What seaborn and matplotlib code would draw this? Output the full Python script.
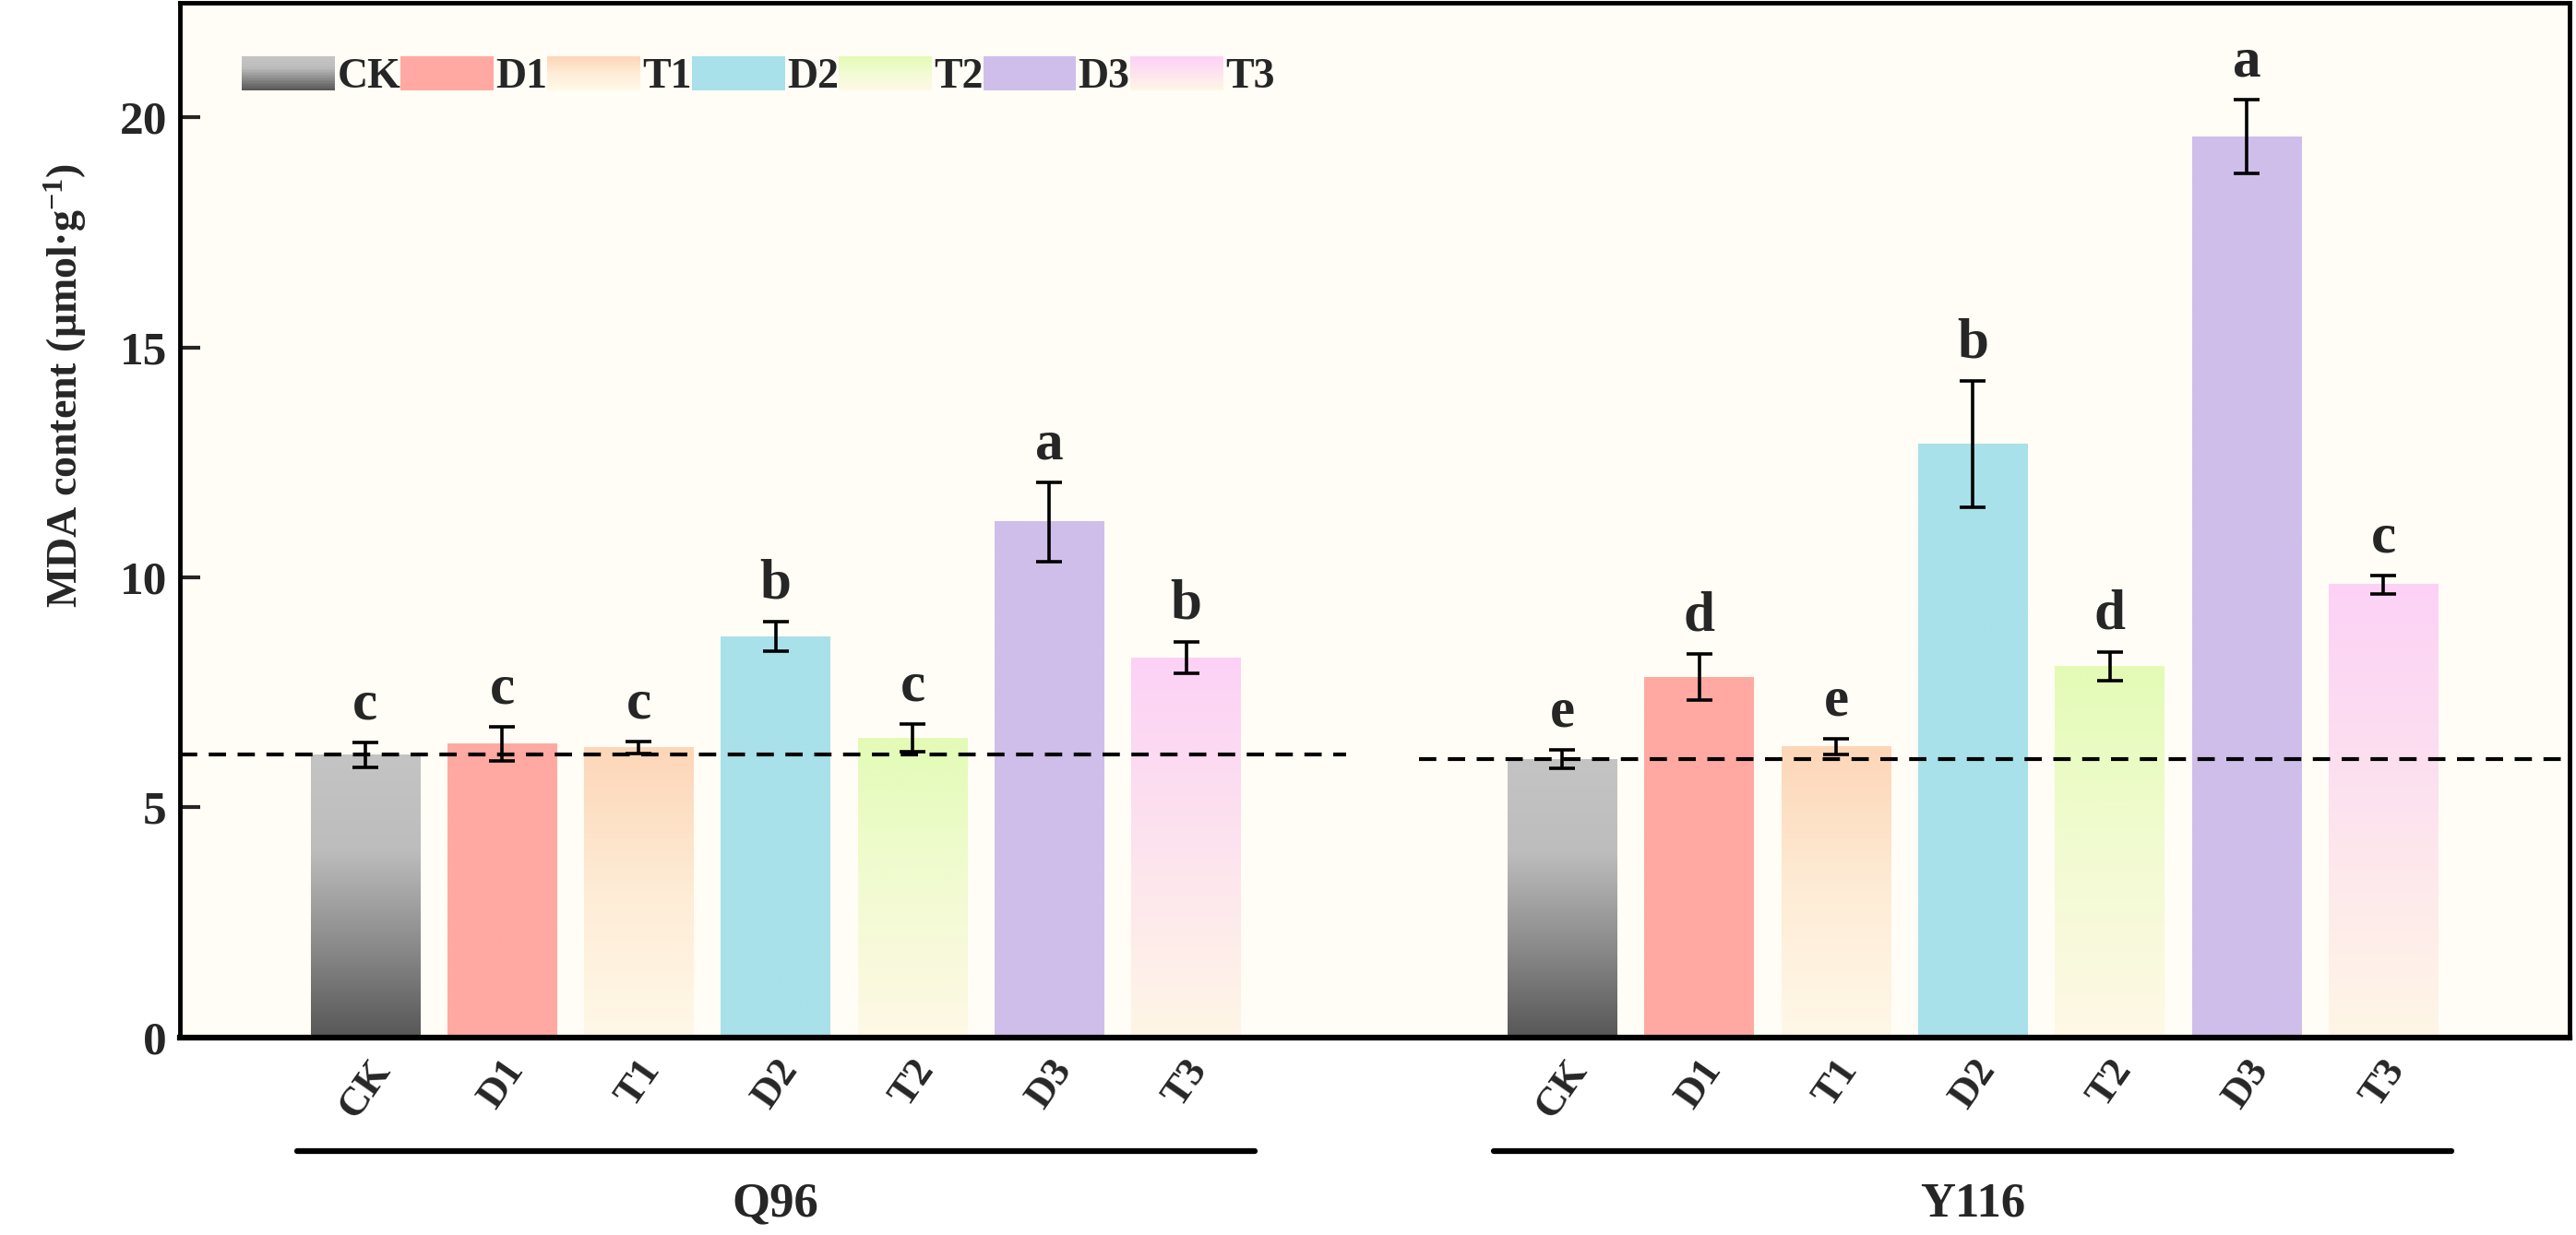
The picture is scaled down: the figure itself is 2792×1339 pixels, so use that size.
import numpy as np
import pandas as pd
import seaborn as sns
import matplotlib.pyplot as plt
import matplotlib.transforms as mtransforms
from matplotlib.colors import LinearSegmentedColormap
from matplotlib.patches import Patch, Rectangle
from matplotlib.legend_handler import HandlerBase

sns.set_theme(style='ticks')
plt.rcParams['font.family'] = ['Liberation Serif', 'DejaVu Serif']
plt.rcParams['font.weight'] = 'bold'
plt.rcParams['mathtext.fontset'] = 'custom'
plt.rcParams['mathtext.rm'] = 'Liberation Serif:bold'
plt.rcParams['mathtext.default'] = 'rm'

# data
treatments = ['CK', 'D1', 'T1', 'D2', 'T2', 'D3', 'T3']
cultivars = ['Q96', 'Y116']
q96_mean = [6.15, 6.39, 6.30, 8.72, 6.51, 11.21, 8.25]
q96_sd = [0.27, 0.37, 0.13, 0.32, 0.30, 0.86, 0.34]
q96_letters = ['c', 'c', 'c', 'b', 'c', 'a', 'b']
y116_mean = [6.05, 7.83, 6.32, 12.90, 8.07, 19.58, 9.85]
y116_sd = [0.20, 0.50, 0.17, 1.38, 0.31, 0.80, 0.20]
y116_letters = ['e', 'd', 'e', 'b', 'd', 'a', 'c']

# colour stops, bottom -> top
stops = {
    'CK': ['#575757', '#8c8c8c', '#bdbdbd', '#c4c4c4'],
    'D1': ['#ffa9a2', '#ffa9a2'],
    'T1': ['#fff8e8', '#feecd6', '#fdd6b8'],
    'D2': ['#a8e1e9', '#a8e1e9'],
    'T2': ['#fff8e6', '#f2fbd2', '#e3fbb6'],
    'D3': ['#cfbeea', '#cfbeea'],
    'T3': ['#fff6e6', '#fde3ee', '#fcd1f6'],
}
group_gap = 8.75

rows = []
for g, (m, s, l) in enumerate([(q96_mean, q96_sd, q96_letters), (y116_mean, y116_sd, y116_letters)]):
    for i, t in enumerate(treatments):
        rows.append(dict(cultivar=cultivars[g], treatment=t, pos=g * group_gap + i,
                         mda=m[i], sd=s[i], letter=l[i]))
df = pd.DataFrame(rows)

fig = plt.figure(figsize=(27.92, 13.39), dpi=100)
ax = fig.add_axes([0.0698, 0.160, 0.9277, 0.838])
ax.set_facecolor('#fffdf5')

pal = {t: stops[t][-1] for t in treatments}
sns.barplot(data=df, x='pos', y='mda', hue='treatment', palette=pal, native_scale=True,
            dodge=False, width=0.8, errorbar=None, legend=False, ax=ax, linewidth=0)

xlim = (-1.355, 16.11)
ylim = (0, 22.5)

# gradient fills
pos2t = dict(zip(df['pos'], df['treatment']))
for p in list(ax.patches):
    cx = p.get_x() + p.get_width() / 2
    t = pos2t[min(pos2t, key=lambda k: abs(k - cx))]
    cm = LinearSegmentedColormap.from_list(t, stops[t])
    grad = cm(np.linspace(0, 1, 256)).reshape(256, 1, 4)
    ax.imshow(grad, extent=[p.get_x(), p.get_x() + p.get_width(), 0, p.get_height()],
              origin='lower', aspect='auto', zorder=1.5, interpolation='bilinear')
    p.set_visible(False)

ax.errorbar(df['pos'], df['mda'], yerr=df['sd'], fmt='none', ecolor='black',
            elinewidth=2.6, capsize=10, capthick=2.6, zorder=3)
for _, r in df.iterrows():
    ax.text(r['pos'], r['mda'] + r['sd'] + 0.25, r['letter'], ha='center', va='bottom',
            fontsize=44, fontweight='bold', zorder=4)

# CK reference lines
ck_q = df[(df.cultivar == 'Q96') & (df.treatment == 'CK')]['mda'].iloc[0]
ck_y = df[(df.cultivar == 'Y116') & (df.treatment == 'CK')]['mda'].iloc[0]
ax.plot([xlim[0], 7.17], [ck_q, ck_q], ls=(0, (4.5, 3)), color='black', lw=3, zorder=2.5)
ax.plot([7.7, xlim[1]], [ck_y, ck_y], ls=(0, (4.5, 3)), color='black', lw=3, zorder=2.5)

ax.set_xlim(*xlim)
ax.set_ylim(*ylim)
ax.set_yticks([0, 5, 10, 15, 20])
ax.set_xticks(df['pos'])
ax.set_xticklabels(df['treatment'], rotation=55, ha='center', va='top', fontsize=32, fontweight='bold')
ax.tick_params(axis='x', length=0, pad=12)
ax.tick_params(axis='y', direction='in', length=16, width=3, labelsize=37, pad=10)
for lab in ax.get_yticklabels():
    lab.set_fontweight('bold')
ax.set_xlabel('')
ax.set_ylabel(r'MDA content (μmol·g$^{-1}$)', fontsize=33, fontweight='bold')
ax.yaxis.set_label_coords(-0.038, 0.63)
for sp in ax.spines.values():
    sp.set_linewidth(3.5)
    sp.set_color('black')
ax.spines['bottom'].set_linewidth(4.5)

# group brackets
trans = mtransforms.blended_transform_factory(ax.transData, ax.transAxes)
for g, c in enumerate(cultivars):
    x0 = g * group_gap - 0.5
    x1 = g * group_gap + len(treatments) - 0.5
    ax.plot([x0, x1], [-0.1096, -0.1096], color='black', lw=4.5, transform=trans, clip_on=False)
    ax.text((x0 + x1) / 2, -0.14, c, ha='center', va='top', fontsize=38,
            fontweight='bold', transform=trans)


class GradHandler(HandlerBase):
    def __init__(self, cols):
        super().__init__()
        self.cols = cols

    def create_artists(self, legend, orig_handle, xdescent, ydescent, width, height, fontsize, trans):
        cm = LinearSegmentedColormap.from_list('h', self.cols)
        n = 24
        arts = []
        for i in range(n):
            arts.append(Rectangle((-xdescent, -ydescent + height * i / n), width, height / n * 1.05,
                                  facecolor=cm((i + 0.5) / n), edgecolor='none', transform=trans))
        return arts


handles = [Patch(facecolor=stops[t][-1], label=t) for t in treatments]
hmap = {h: GradHandler(stops[t]) for h, t in zip(handles, treatments)}
leg = ax.legend(handles=handles, handler_map=hmap, ncol=7, loc='upper left',
                bbox_to_anchor=(0.026, 0.948), frameon=False,
                handlelength=2.2, handleheight=0.85, handletextpad=0.05, columnspacing=0.0,
                borderpad=0, borderaxespad=0, prop={'weight': 'bold', 'size': 33})

fig.savefig('out.png', dpi=100, facecolor='white')
